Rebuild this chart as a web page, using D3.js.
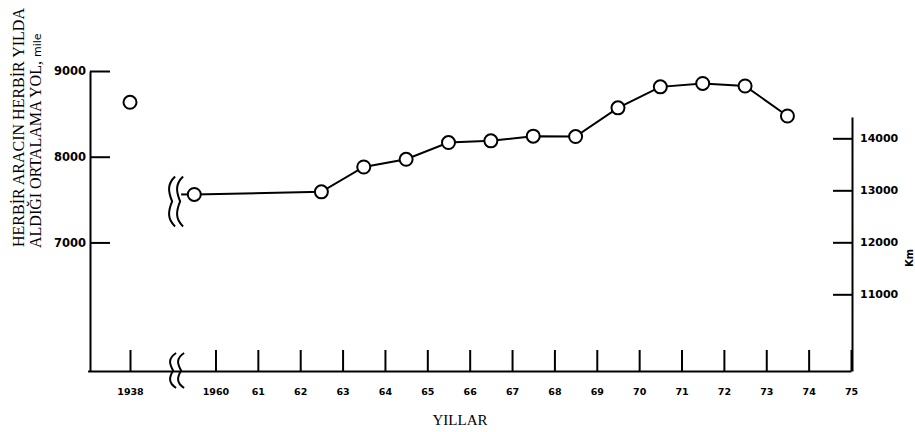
<!DOCTYPE html>
<html>
<head>
<meta charset="utf-8">
<script src="https://cdn.jsdelivr.net/npm/d3@7"></script>
<style>
  body { margin: 0; background: #fff; }
  svg { display: block; }
  .tick text { font-family: "DejaVu Sans", sans-serif; font-weight: bold; fill: #000; }
</style>
</head>
<body>
<script>

const W = 915;
const H = 432;

// data (x = position between year ticks, y = miles)
const years = [1938, 1959.5, 1962.5, 1963.5, 1964.5, 1965.5, 1966.5, 1967.5, 1968.5, 1969.5, 1970.5, 1971.5, 1972.5, 1973.5];
const miles = [8635, 7560, 7590, 7880, 7970, 8165, 8185, 8240, 8235, 8570, 8815, 8855, 8825, 8475];

const xTicks = [1938, 1960, 1961, 1962, 1963, 1964, 1965, 1966, 1967, 1968, 1969, 1970, 1971, 1972, 1973, 1974, 1975];
const xTickLabels = ["1938", "1960", "61", "62", "63", "64", "65", "66", "67", "68", "69", "70", "71", "72", "73", "74", "75"];
const mileTicks = [7000, 8000, 9000];
const kmTicks = [11000, 12000, 13000, 14000];

const svg = d3.select("body")
.append("svg")
.attr("width", W)
.attr("height", H);

// broken x scale: 1939..1959 collapsed
const xScale = d3.scaleLinear()
.domain([1937, 1939, 1959, 1975])
.range([87.6, 172.4, 173.1, 851]);

const yScale = d3.scaleLinear()
.domain([5500, 9000])
.range([371, 71]);

const kmScale = d3.scaleLinear()
.domain([9525, 14410])
.range([371, 117]);

const xAxis = d3.axisBottom(xScale)
.tickValues(xTicks)
.tickFormat((d, i) => xTickLabels[i])
.tickSizeInner(-21)
.tickSizeOuter(0)
.tickPadding(17);

const yAxis = d3.axisLeft(yScale)
.tickValues(mileTicks)
.tickFormat(d3.format("d"))
.tickSizeInner(-20)
.tickSizeOuter(0)
.tickPadding(4);

const kmAxis = d3.axisRight(kmScale)
.tickValues(kmTicks)
.tickFormat(d3.format("d"))
.tickSizeInner(-19)
.tickSizeOuter(0)
.tickPadding(8);

const gx = svg.append("g")
.attr("transform", "translate(0,371)")
.call(xAxis);
gx.selectAll(".tick text").style("font-size", "9.5px");

const gy = svg.append("g")
.attr("transform", "translate(90,0)")
.call(yAxis);
gy.selectAll(".tick text").style("font-size", "11.5px");

const gk = svg.append("g")
.attr("transform", "translate(852,0)")
.call(kmAxis);
gk.selectAll(".tick text").style("font-size", "11px");

svg.selectAll(".domain, .tick line")
.attr("stroke", "#000")
.attr("stroke-width", 2);

// wavy break marks
function wave(x, y0, y1) {
  const m = (y0 + y1) / 2;
  const h = (y1 - y0) / 2;
  return `M${x + 5},${y0} C${x - 3},${y0 + h * 0.3} ${x - 2},${m - h * 0.4} ${x + 2},${m}`
    + ` C${x - 2},${m + h * 0.4} ${x - 3},${y1 - h * 0.3} ${x + 5},${y1}`;
}

const bx = xScale(1959) - 1;
const by = yScale(miles[1]);
[bx - 2, bx + 6].forEach(x => {
  svg.append("path")
  .attr("d", wave(x, by - 18, by + 32))
  .attr("fill", "none")
  .attr("stroke", "#000")
  .attr("stroke-width", 2);
  svg.append("path")
  .attr("d", wave(x + 1, 353, 388))
  .attr("fill", "none")
  .attr("stroke", "#000")
  .attr("stroke-width", 2);
});
svg.append("line")
.attr("x1", bx + 9)
.attr("x2", xScale(years[1]))
.attr("y1", by)
.attr("y2", by)
.attr("stroke", "#000")
.attr("stroke-width", 2);

const pts = years.map((y, i) => ({ year: y, value: miles[i] }));

const line = d3.line()
.x(d => xScale(d.year))
.y(d => yScale(d.value));

svg.append("path")
.datum(pts.slice(1))
.attr("d", line)
.attr("fill", "none")
.attr("stroke", "#000")
.attr("stroke-width", 2);

svg.selectAll("circle")
.data(pts)
.enter()
.append("circle")
.attr("cx", d => xScale(d.year))
.attr("cy", d => yScale(d.value))
.attr("r", 6.5)
.attr("fill", "#fff")
.attr("stroke", "#000")
.attr("stroke-width", 2);

// titles
svg.append("text")
.text("HERBİR ARACIN HERBİR YILDA")
.attr("transform", "translate(24,247) rotate(-90)")
.style("font-family", "'Liberation Serif', serif")
.style("font-size", "16px");

const t2 = svg.append("text")
.attr("transform", "translate(41,248) rotate(-90)")
.style("font-family", "'Liberation Serif', serif")
.style("font-size", "16px");
t2.append("tspan").text("ALDIĞI ORTALAMA YOL, ");
t2.append("tspan").text("mile")
.style("font-family", "'DejaVu Sans', sans-serif")
.style("font-size", "11px");

svg.append("text")
.text("YILLAR")
.attr("x", 460)
.attr("y", 425)
.attr("text-anchor", "middle")
.style("font-family", "'Liberation Serif', serif")
.style("font-size", "15px");

svg.append("text")
.text("Km")
.attr("transform", "translate(913,258) rotate(-90)")
.attr("text-anchor", "middle")
.style("font-family", "'DejaVu Sans', sans-serif")
.style("font-weight", "bold")
.style("font-size", "10px");

</script>
</body>
</html>
